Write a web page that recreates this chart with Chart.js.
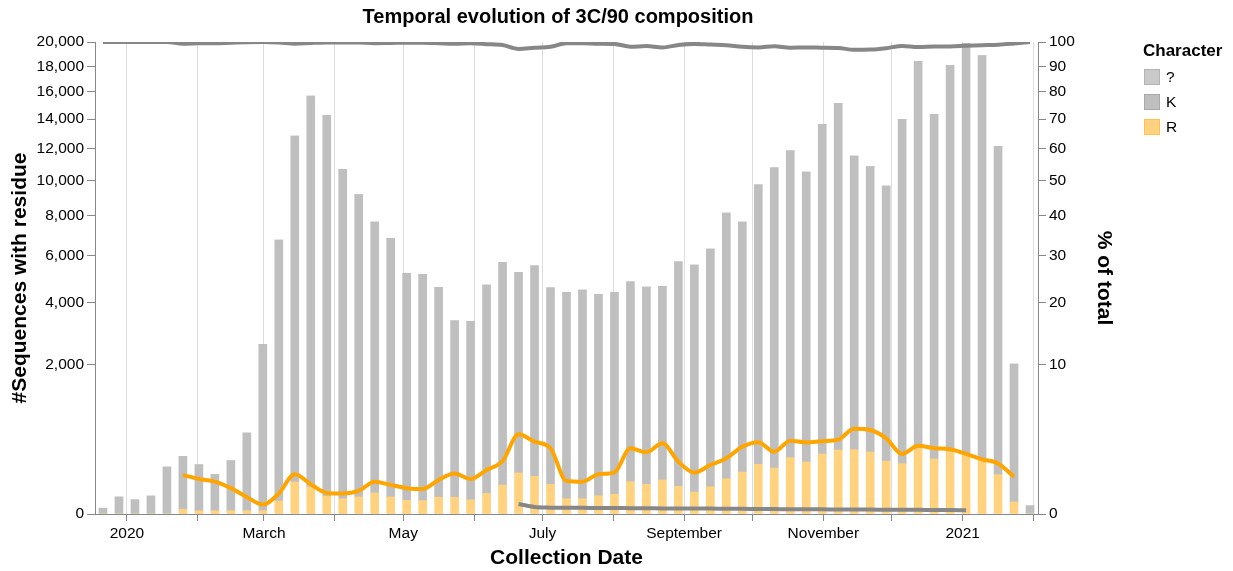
<!DOCTYPE html>
<html>
<head>
<meta charset="utf-8">
<title>Temporal evolution of 3C/90 composition</title>
<script src="https://cdn.jsdelivr.net/npm/chart.js@4.4.1/dist/chart.umd.min.js"></script>
<style>
  html, body { margin: 0; padding: 0; background: #fff; }
  #wrap { width: 1233px; height: 571px; }
</style>
</head>
<body>
<div id="wrap"><canvas id="compositionChart"></canvas></div>
<script>
// Start date of each 7-day collection bin
const weekStarts = [
    "2019-12-18", "2019-12-25", "2020-01-01", "2020-01-08", "2020-01-15", "2020-01-22", "2020-01-29",
    "2020-02-05", "2020-02-12", "2020-02-19", "2020-02-26", "2020-03-04", "2020-03-11", "2020-03-18",
    "2020-03-25", "2020-04-01", "2020-04-08", "2020-04-15", "2020-04-22", "2020-04-29", "2020-05-06",
    "2020-05-13", "2020-05-20", "2020-05-27", "2020-06-03", "2020-06-10", "2020-06-17", "2020-06-24",
    "2020-07-01", "2020-07-08", "2020-07-15", "2020-07-22", "2020-07-29", "2020-08-05", "2020-08-12",
    "2020-08-19", "2020-08-26", "2020-09-02", "2020-09-09", "2020-09-16", "2020-09-23", "2020-09-30",
    "2020-10-07", "2020-10-14", "2020-10-21", "2020-10-28", "2020-11-04", "2020-11-11", "2020-11-18",
    "2020-11-25", "2020-12-02", "2020-12-09", "2020-12-16", "2020-12-23", "2020-12-30", "2021-01-06",
    "2021-01-13", "2021-01-20", "2021-01-27"
];

// Sequences with residue, per week and character
const countR = [
    0, 0, 0, 0, 0, 2, 1, 1, 1, 1, 1, 15, 92, 65, 28, 21, 26, 40, 26, 17,
    16, 25, 25, 18, 38, 75, 151, 128, 79, 21, 21, 30, 35, 94, 79, 104, 69, 43, 67, 112,
    158, 222, 190, 285, 243, 323, 368, 371, 345, 252, 227, 387, 272, 348, 331, 278, 139, 13, 0
];
const countK = [
    3, 26, 18, 29, 198, 296, 217, 139, 254, 588, 2581, 6725, 12734, 15621, 14242, 10646, 9127, 7614, 6797, 5183,
    5142, 4589, 3329, 3317, 4670, 5612, 5092, 5406, 4517, 4390, 4482, 4302, 4376, 4749, 4546, 4547, 5644, 5522, 6236, 8020,
    7495, 9512, 10575, 11563, 10256, 13306, 14771, 11134, 10484, 9405, 13757, 18009, 14068, 17725, 19558, 18578, 11998, 2007, 6
];
const countQ = [
    0, 0, 0, 0, 0, 0, 0, 0, 0, 0, 0, 0, 0, 0, 0, 0, 0, 0, 0, 0,
    0, 0, 0, 0, 0, 0, 2, 1, 1, 1, 1, 1, 1, 1, 1, 1, 1, 1, 1, 1,
    1, 1, 1, 1, 1, 1, 1, 1, 1, 1, 1, 1, 1, 1, 1, 0, 0, 0, 0
];

// Share of total (%), per week and character
const pctK = [
    100, 100, 100, 100, 100, 99.3, 99.45, 99.5, 99.7, 99.9, 99.95, 99.8, 99.3, 99.6, 99.8, 99.8, 99.75, 99.5, 99.6, 99.7,
    99.7, 99.5, 99.25, 99.45, 99.1, 98.7, 97.1, 97.6, 98.0, 99.5, 99.5, 99.3, 99.2, 98.0, 98.3, 97.7, 98.75, 99.2, 98.9, 98.6,
    97.95, 97.7, 98.25, 97.6, 97.7, 97.6, 97.5, 96.7, 96.8, 97.4, 98.35, 97.9, 98.05, 98.1, 98.4, 98.65, 98.85, 99.4, 100
];
const pctR = [
    null, null, null, null, null, 0.68, 0.55, 0.47, 0.30, 0.13, 0.04, 0.19, 0.71, 0.40, 0.20, 0.19, 0.24, 0.47, 0.38, 0.30,
    0.28, 0.52, 0.74, 0.55, 0.87, 1.26, 2.85, 2.35, 1.94, 0.49, 0.47, 0.71, 0.78, 1.94, 1.71, 2.24, 1.23, 0.77, 1.08, 1.39,
    2.03, 2.31, 1.74, 2.41, 2.30, 2.38, 2.48, 3.27, 3.17, 2.57, 1.62, 2.09, 1.94, 1.88, 1.62, 1.34, 1.15, 0.62, null
];
const pctQ = [
    null, null, null, null, null, null, null, null, null, null, null, null, null, null, null, null, null, null, null, null,
    null, null, null, null, null, null, 0.045, 0.022, 0.018, 0.017, 0.017, 0.016, 0.016, 0.015, 0.015, 0.014, 0.014, 0.013, 0.013, 0.012,
    0.012, 0.011, 0.011, 0.010, 0.010, 0.010, 0.009, 0.009, 0.009, 0.008, 0.008, 0.008, 0.007, 0.007, 0.006, null, null, null, null
];

// Axis ticks
const monthTicks = [
    "2020-01-01", "2020-02-01", "2020-03-01", "2020-04-01", "2020-05-01", "2020-06-01", "2020-07-01",
    "2020-08-01", "2020-09-01", "2020-10-01", "2020-11-01", "2020-12-01", "2021-01-01", "2021-02-01"
];
const monthLabels = ["2020", "", "March", "", "May", "", "July", "", "September", "", "November", "", "2021", ""];
const countTicks = [0, 2000, 4000, 6000, 8000, 10000, 12000, 14000, 16000, 18000, 20000];
const pctTicks = [0, 10, 20, 30, 40, 50, 60, 70, 80, 90, 100];

// Dates -> day number counted from 2020-01-01
const DAY_MS = 86400000;
const origin = Date.parse("2020-01-01");
const dayOf = (s) => (Date.parse(s) - origin) / DAY_MS;
const weekMid = weekStarts.map((s) => dayOf(s) + 3.5);
const toPoints = (arr) => arr.map((v, i) => ({ x: weekMid[i], y: v }));
const xMin = dayOf(weekStarts[0]);
const xMax = dayOf(weekStarts[weekStarts.length - 1]) + 7;

// Square-root scale (Chart.js has none built in)
class SqrtScale extends Chart.LinearScale {
    getPixelForValue(value) {
        if (value === null || isNaN(value)) return NaN;
        const lo = Math.sqrt(this.min), hi = Math.sqrt(this.max);
        return this.getPixelForDecimal((Math.sqrt(Math.max(value, 0)) - lo) / (hi - lo));
    }
    getValueForPixel(pixel) {
        const lo = Math.sqrt(this.min), hi = Math.sqrt(this.max);
        const s = lo + this.getDecimalForPixel(pixel) * (hi - lo);
        return s * s;
    }
}
SqrtScale.id = "sqrt";
SqrtScale.defaults = Chart.LinearScale.defaults;
Chart.register(SqrtScale);

const FONT = "'Liberation Sans', Arial, Helvetica, sans-serif";
Chart.defaults.font.family = FONT;
Chart.defaults.color = "#000";

const colors = { R: "#ffd280", K: "#bfbfbf", Q: "#c9c9c9", lineGrey: "#878787", lineOrange: "#ffa500" };

// Legend on the right, drawn by hand
const legendItems = [
    { label: "?", fill: colors.Q, stroke: "#b3b3b3" },
    { label: "K", fill: colors.K, stroke: "#a9a9a9" },
    { label: "R", fill: colors.R, stroke: "#ffc24f" }
];
const characterLegend = {
    id: "characterLegend",
    afterDraw(chart) {
        const ctx = chart.ctx;
        const left = chart.chartArea.right + 105;
        ctx.save();
        ctx.textBaseline = "middle";
        ctx.fillStyle = "#000";
        ctx.font = "bold 17px " + FONT;
        ctx.fillText("Character", left, 51);
        ctx.font = "15.5px " + FONT;
        legendItems.forEach((item, i) => {
            const y = 77 + i * 25;
            ctx.fillStyle = item.fill;
            ctx.fillRect(left + 1, y - 8, 16, 16);
            ctx.strokeStyle = item.stroke;
            ctx.lineWidth = 1;
            ctx.strokeRect(left + 1.5, y - 7.5, 15, 15);
            ctx.fillStyle = "#000";
            ctx.fillText(item.label, left + 23, y + 1);
        });
        ctx.restore();
    }
};

const barBase = { type: "bar", yAxisID: "y", order: 2, barThickness: 8, borderWidth: 0 };
const lineBase = {
    type: "line", yAxisID: "y2", order: 1, borderWidth: 4, pointRadius: 0,
    cubicInterpolationMode: "monotone", fill: false, spanGaps: false
};

new Chart(document.getElementById("compositionChart"), {
    type: "bar",
    data: {
        datasets: [
            { ...barBase, label: "R", data: toPoints(countR), backgroundColor: colors.R },
            { ...barBase, label: "K", data: toPoints(countK), backgroundColor: colors.K },
            { ...barBase, label: "?", data: toPoints(countQ), backgroundColor: colors.Q },
            { ...lineBase, label: "K %", data: toPoints(pctK), borderColor: colors.lineGrey },
            { ...lineBase, label: "R %", data: toPoints(pctR), borderColor: colors.lineOrange },
            { ...lineBase, label: "? %", data: toPoints(pctQ), borderColor: colors.lineGrey }
        ]
    },
    options: {
        responsive: true,
        maintainAspectRatio: false,
        animation: false,
        layout: { padding: { left: 0, right: 117, top: 0, bottom: 0 } },
        plugins: {
            legend: { display: false },
            tooltip: { enabled: false },
            title: {
                display: true,
                text: "Temporal evolution of 3C/90 composition",
                color: "#000",
                font: { size: 20, weight: "bold" },
                padding: { top: 5, bottom: 13 }
            }
        },
        scales: {
            x: {
                type: "linear",
                min: xMin,
                max: xMax,
                stacked: true,
                offset: false,
                afterBuildTicks: (scale) => { scale.ticks = monthTicks.map((d) => ({ value: dayOf(d) })); },
                afterFit: (scale) => { scale.height = 57; },
                ticks: {
                    autoSkip: false,
                    maxRotation: 0,
                    padding: 3,
                    color: "#000",
                    font: { size: 15.5 },
                    callback: (value, index) => monthLabels[index]
                },
                grid: { offset: false, color: "#dddddd", tickColor: "#888", tickLength: 7 },
                border: { color: "#888" },
                title: {
                    display: true,
                    text: "Collection Date",
                    color: "#000",
                    font: { size: 21, weight: "bold" },
                    padding: { top: 0, bottom: 0 }
                }
            },
            y: {
                type: "sqrt",
                position: "left",
                min: 0,
                max: 20000,
                stacked: true,
                afterBuildTicks: (scale) => { scale.ticks = countTicks.map((v) => ({ value: v })); },
                afterFit: (scale) => { scale.width = 95; },
                ticks: {
                    autoSkip: false,
                    padding: 3,
                    color: "#000",
                    font: { size: 15.5 },
                    callback: (v) => v.toLocaleString("en-US")
                },
                grid: { drawOnChartArea: false, tickColor: "#888", tickLength: 8 },
                border: { color: "#888" },
                title: {
                    display: true,
                    text: "#Sequences with residue",
                    color: "#000",
                    font: { size: 21, weight: "bold" },
                    padding: { top: 8, bottom: 0 }
                }
            },
            y2: {
                type: "sqrt",
                position: "right",
                min: 0,
                max: 100,
                afterBuildTicks: (scale) => { scale.ticks = pctTicks.map((v) => ({ value: v })); },
                afterFit: (scale) => { scale.width = 78; },
                ticks: {
                    autoSkip: false,
                    padding: 3,
                    color: "#000",
                    font: { size: 15.5 },
                    callback: (v) => String(v)
                },
                grid: { drawOnChartArea: false, tickColor: "#888", tickLength: 8 },
                border: { color: "#888" },
                title: {
                    display: true,
                    text: "% of total",
                    color: "#000",
                    font: { size: 21, weight: "bold" },
                    padding: { top: 0, bottom: 0 }
                }
            }
        }
    },
    plugins: [characterLegend]
});
</script>
</body>
</html>
